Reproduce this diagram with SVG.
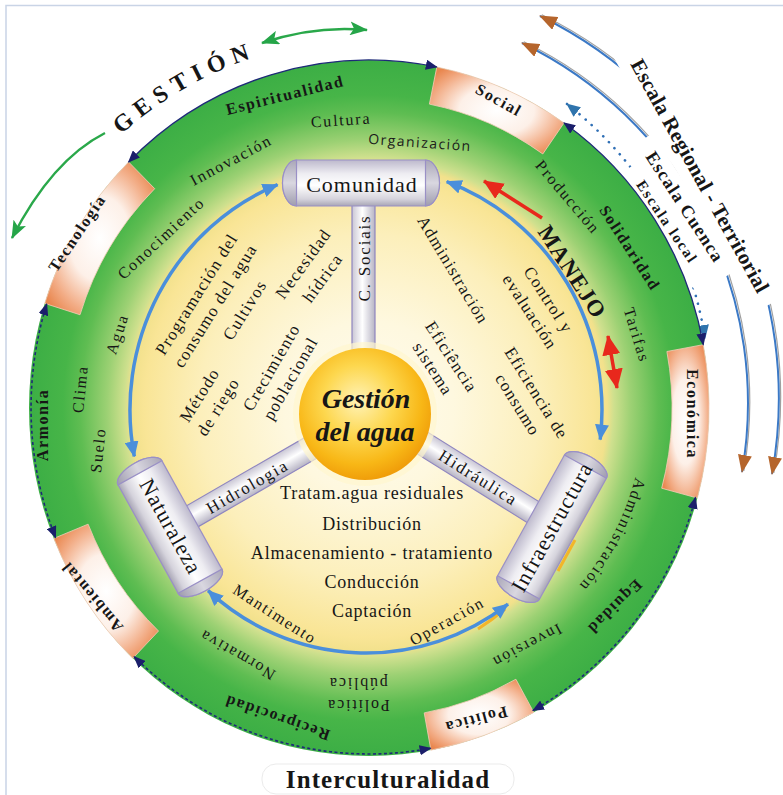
<svg xmlns="http://www.w3.org/2000/svg" width="783" height="795" viewBox="0 0 783 795">
<defs>
<style>
.sf{font-family:"Liberation Serif","Times New Roman",serif;fill:#161616}
.c{text-anchor:middle;dominant-baseline:central}
.r16{font-size:16px;letter-spacing:1.8px}
.i17{font-size:17px;letter-spacing:1.2px}
.b16{font-size:16px;font-weight:bold;letter-spacing:1.6px}
.cyl{font-size:22px;letter-spacing:1px}
.sp{font-size:17px;letter-spacing:1.8px}
.ls{font-size:18px;letter-spacing:0.8px;text-anchor:middle}
.sans{font-family:"Open Sans","DejaVu Sans",sans-serif;fill:#1a1a1a;font-size:14px;letter-spacing:1.5px}
.seg{fill:url(#segGrad);stroke:#f3cdb8;stroke-width:0.8}
.edge{fill:none;stroke:#1e2a78;stroke-width:1.3;marker-start:url(#mNavy);marker-end:url(#mNavy)}
.dash{stroke-dasharray:3 2.5;stroke-width:1.6}
.blue{fill:none;stroke:#4a8fdb;stroke-width:3.5;marker-start:url(#mBlue);marker-end:url(#mBlue)}
.red{fill:none;stroke:#e8281c;stroke-width:3.5}
.cylBody{fill:url(#cylGrad);stroke:#9a90c6;stroke-width:1.2}
.cap{fill:url(#capGrad);stroke:#9a90c6;stroke-width:1.2}
.spoke{fill:url(#spokeGrad);stroke:#8f86c0;stroke-width:1.2}
.scale{fill:none;stroke:#3b79c6;stroke-width:2;marker-start:url(#mBrown);marker-end:url(#mBrown)}
.shade{fill:none;stroke:#a0a0a0;stroke-width:1.2}
.green{fill:none;stroke:#2aa84a;stroke-width:2.5}
</style>
<marker id="mNavy" markerUnits="userSpaceOnUse" markerWidth="12" markerHeight="10" refX="11" refY="5" orient="auto-start-reverse"><path d="M0,0 L12,5 L0,10 z" fill="#1b1f6b"/></marker>
<marker id="mBlue" markerUnits="userSpaceOnUse" markerWidth="16" markerHeight="14" refX="15" refY="7" orient="auto-start-reverse"><path d="M0,0 L16,7 L0,14 z" fill="#4a8fdb"/></marker>
<marker id="mBrown" markerUnits="userSpaceOnUse" markerWidth="18" markerHeight="14" refX="17" refY="7" orient="auto-start-reverse"><path d="M0,0 L18,7 L0,14 z" fill="#b5652c"/></marker>
<marker id="mTeal" markerUnits="userSpaceOnUse" markerWidth="14" markerHeight="12" refX="13" refY="6" orient="auto-start-reverse"><path d="M0,0 L14,6 L0,12 z" fill="#2f74ad"/></marker>
<marker id="mGreen" markerUnits="userSpaceOnUse" markerWidth="18" markerHeight="14" refX="17" refY="7" orient="auto-start-reverse"><path d="M0,0 L18,7 L0,14 L4,7 z" fill="#25a548"/></marker>
<marker id="mRed" markerUnits="userSpaceOnUse" markerWidth="20" markerHeight="18" refX="19" refY="9" orient="auto-start-reverse"><path d="M0,0 L20,9 L0,18 z" fill="#e8281c"/></marker>
<radialGradient id="ringGrad" cx="0.5" cy="0.5" r="0.5">
<stop offset="0" stop-color="#fffcf0"/>
<stop offset="0.25" stop-color="#fef8df"/>
<stop offset="0.5" stop-color="#fcefbb"/>
<stop offset="0.66" stop-color="#f9e596"/>
<stop offset="0.70" stop-color="#f2e18c"/>
<stop offset="0.72" stop-color="#cfe08e"/>
<stop offset="0.77" stop-color="#9dd174"/>
<stop offset="0.85" stop-color="#5fbd52"/>
<stop offset="0.9" stop-color="#47b548"/>
<stop offset="1" stop-color="#3cae45"/>
</radialGradient>
<radialGradient id="segGrad" cx="0.5" cy="0.5" r="0.62">
<stop offset="0" stop-color="#ffffff"/>
<stop offset="0.45" stop-color="#fdf0e8"/>
<stop offset="0.8" stop-color="#f2ab84"/>
<stop offset="1" stop-color="#e9874f"/>
</radialGradient>
<radialGradient id="goldGrad" cx="0.45" cy="0.4" r="0.6">
<stop offset="0" stop-color="#fff3b8"/>
<stop offset="0.45" stop-color="#fdd74e"/>
<stop offset="0.8" stop-color="#f8b716"/>
<stop offset="1" stop-color="#f09e0a"/>
</radialGradient>
<linearGradient id="cylGrad" x1="0" y1="0" x2="0" y2="1">
<stop offset="0" stop-color="#bdb9cc"/>
<stop offset="0.3" stop-color="#eeedf2"/>
<stop offset="0.55" stop-color="#ffffff"/>
<stop offset="0.85" stop-color="#d5d3dc"/>
<stop offset="1" stop-color="#a8a5b5"/>
</linearGradient>
<linearGradient id="capGrad" x1="0" y1="0" x2="0" y2="1">
<stop offset="0" stop-color="#aaa7b8"/>
<stop offset="0.5" stop-color="#d9d7e0"/>
<stop offset="1" stop-color="#9f9cae"/>
</linearGradient>
<linearGradient id="spokeGrad" x1="0" y1="0" x2="0" y2="1">
<stop offset="0" stop-color="#c9c6d4"/>
<stop offset="0.45" stop-color="#ffffff"/>
<stop offset="1" stop-color="#b7b4c4"/>
</linearGradient>
<linearGradient id="spokeGradV" x1="0" y1="0" x2="1" y2="0">
<stop offset="0" stop-color="#c9c6d4"/>
<stop offset="0.45" stop-color="#ffffff"/>
<stop offset="1" stop-color="#b7b4c4"/>
</linearGradient>
<path id="gestionArc" d="M22.3,281.8 A369,369 0 0 1 433.1,44.6"/>
<path id="adminArc" d="M507,169 A276,276 0 0 1 252.4,658.1"/>
</defs>

<!-- page frame -->
<rect x="6" y="5.5" width="800" height="800" fill="#fff" stroke="#c9d4e6" stroke-width="1.5"/>

<!-- arrows and scale lines outside the wheel -->
<g id="outer-arrows">
<path class="green" d="M105,133 Q52,160 12,238" marker-end="url(#mGreen)"/>
<path class="green" d="M262,43 Q315,25 367,30" marker-start="url(#mGreen)" marker-end="url(#mGreen)"/>
<path class="shade" d="M540,16 A425,425 0 0 1 772,474" transform="translate(1.8,-1.2)"/>
<path class="scale" d="M540,16 A425,425 0 0 1 772,474"/>
<path class="shade" d="M522,43 A400,400 0 0 1 742,472" transform="translate(1.8,-1.2)"/>
<path class="scale" d="M522,43 A400,400 0 0 1 742,472"/>
<path d="M567,104 A370,370 0 0 1 705,338" fill="none" stroke="#2f6fb5" stroke-width="2.6" stroke-linecap="round" stroke-dasharray="0.1 8" marker-start="url(#mTeal)" marker-end="url(#mTeal)"/>
<!-- white label plates that interrupt the scale lines -->
<rect x="-146" y="-26" width="292" height="44" fill="#fff" transform="translate(700,176) rotate(61)"/>
<rect x="-80" y="-12" width="160" height="24" fill="#fff" transform="translate(686,207) rotate(57)"/>
<rect x="-70" y="-9" width="140" height="18" fill="#fff" transform="translate(665,228) rotate(57)"/>
</g>

<!-- wheel -->
<g id="ring">
<ellipse cx="369" cy="408" rx="340" ry="348" fill="url(#ringGrad)"/>
</g>
<g id="dimensions" transform="translate(369 408) scale(1 1.0235)">
<g id="seg-social"><path class="seg" d="M67.8,-333.2 A340,340 0 0 1 195.0,-278.5 L173.8,-248.2 A303,303 0 0 0 60.4,-296.9 Z"/></g>
<g id="seg-economica"><path class="seg" d="M334.3,-61.9 A340,340 0 0 1 328.4,88.0 L292.7,78.4 A303,303 0 0 0 297.9,-55.2 Z"/></g>
<g id="seg-politica"><path class="seg" d="M164.8,297.4 A340,340 0 0 1 61.9,334.3 L55.2,297.9 A303,303 0 0 0 146.9,265.0 Z"/></g>
<g id="seg-ambiental"><path class="seg" d="M-236.2,244.6 A340,340 0 0 1 -315.2,127.4 L-280.9,113.5 A303,303 0 0 0 -210.5,217.9 Z"/></g>
<g id="seg-tecnologia"><path class="seg" d="M-324.3,-102.2 A340,340 0 0 1 -240.4,-240.4 L-214.3,-214.3 A303,303 0 0 0 -289.0,-91.1 Z"/></g>
</g>

<g id="connectors">
<g transform="translate(369 408) scale(1 1.0235)">
<path class="edge" d="M-240.4,-240.4 A340,340 0 0 1 67.8,-333.2"/>
<path class="edge" d="M195.0,-278.5 A340,340 0 0 1 334.3,-61.9"/>
<path class="edge dash" d="M326.5,87.5 A338,338 0 0 1 163.9,295.6"/>
<path class="edge dash" d="M61.6,332.4 A338,338 0 0 1 -234.8,243.1"/>
<path class="edge dash" d="M-313.4,126.6 A338,338 0 0 1 -322.3,-101.6"/>
</g>
<path d="M575,540 L558,571" stroke="#f2b52a" stroke-width="3" fill="none"/>
<path d="M478,629 Q492,620 505,609" stroke="#f2b52a" stroke-width="3" fill="none"/>
<path class="blue" d="M277.6,184.7 A236,243 0 0 0 134.3,456.4"/>
<path class="blue" d="M446.7,181.6 A236,243 0 0 1 600.2,439.6"/>
<path class="blue" d="M208.1,590.6 A236,243 0 0 0 508.0,604.1"/>
<path class="red" d="M542,218 L484,181" marker-end="url(#mRed)"/>
<path class="red" d="M608,336 L617,388" marker-start="url(#mRed)" marker-end="url(#mRed)"/>
</g>

<!-- spokes -->
<g id="spokes">
<g id="spoke-sociais">
<rect x="352" y="200" width="23" height="155" fill="url(#spokeGradV)" stroke="#8f86c0" stroke-width="1.2"/>
<text class="sf c sp" transform="translate(364,258) rotate(-90)">C. Sociais</text>
</g>
<g id="spoke-hidrologia" transform="translate(250,483) rotate(-30)">
<rect class="spoke" x="-70" y="-12" width="140" height="24"/>
<text class="sf c sp" x="-4" y="2">Hidrologia</text>
</g>
<g id="spoke-hidraulica" transform="translate(480,479) rotate(32)">
<rect class="spoke" x="-70" y="-12" width="140" height="24"/>
<text class="sf c sp" x="-2" y="0">Hidráulica</text>
</g>
</g>

<!-- hub -->
<g id="node-gestion">
<circle cx="365" cy="414" r="72" fill="#fff6cf" opacity="0.7"/>
<circle cx="365" cy="414" r="66" fill="url(#goldGrad)"/>
<text class="sf c" x="366" y="398" font-size="28" font-weight="bold" font-style="italic">Gestión</text>
<text class="sf c" x="365" y="431" font-size="28" font-weight="bold" font-style="italic">del agua</text>
</g>

<!-- cylinders -->
<g id="node-comunidad" transform="translate(361,183)">
<rect class="cylBody" x="-78.5" y="-23" width="157" height="46" rx="14" ry="23"/>
<path class="cap" d="M-64.5,-23 A14,23 0 0 0 -64.5,23 Z"/>
<path class="cap" d="M64.5,-23 A14,23 0 0 1 64.5,23 Z"/>
<text class="sf c cyl" x="1" y="1">Comunidad</text>
</g>
<g id="node-naturaleza" transform="translate(170,527) rotate(61)">
<rect class="cylBody" x="-73" y="-25" width="146" height="50" rx="11" ry="25"/>
<path class="cap" d="M-62,-25 A11,25 0 0 0 -62,25 Z"/>
<path class="cap" d="M62,-25 A11,25 0 0 1 62,25 Z"/>
<text class="sf c cyl" x="0" y="-1">Naturaleza</text>
</g>
<g id="node-infraestructura" transform="translate(552,527) rotate(-61)">
<rect class="cylBody" x="-80" y="-24" width="160" height="48" rx="11" ry="24"/>
<path class="cap" d="M-69,-24 A11,24 0 0 0 -69,24 Z"/>
<path class="cap" d="M69,-24 A11,24 0 0 1 69,24 Z"/>
<text class="sf c cyl" x="0" y="0">Infraestructura</text>
</g>

<!-- dimension labels -->
<g id="labels-dimensions">
<text class="sf c b16" transform="translate(499,100) rotate(29)">Social</text>
<text class="sf c b16" transform="translate(77,233) rotate(-56)">Tecnología</text>
<text class="sf c b16" transform="translate(692,414) rotate(90)">Económica</text>
<text class="sf c b16" transform="translate(476,720) rotate(165)">Política</text>
<text class="sf c b16" transform="translate(92,597) rotate(230)">Ambiental</text>
<text class="sf c b16" transform="translate(285,95) rotate(-14)">Espiritualidad</text>
<text class="sf c b16" transform="translate(630,248) rotate(57)">Solidaridad</text>
<text class="sf c b16" transform="translate(615,607) rotate(135)">Equidad</text>
<text class="sf c b16" transform="translate(277,718) rotate(199)">Reciprocidad</text>
<text class="sf c b16" transform="translate(42,425) rotate(-90)">Armonía</text>
</g>

<!-- ring terms -->
<g id="labels-ring">
<text class="sf c r16" transform="translate(341,120) rotate(-4)">Cultura</text>
<text class="sans c" transform="translate(420,142) rotate(4)">Organización</text>
<text class="sf c r16" transform="translate(231,160) rotate(-28)">Innovación</text>
<text class="sf c r16" transform="translate(161,238) rotate(-43)">Conocimiento</text>
<text class="sf c r16" transform="translate(117,334) rotate(-72)">Agua</text>
<text class="sf c r16" transform="translate(80,389) rotate(-84)">Clima</text>
<text class="sf c r16" transform="translate(98,450) rotate(-84)">Suelo</text>
<text class="sf c r16" transform="translate(568,197) rotate(50)">Producción</text>
<text class="sf c r16" transform="translate(637,335) rotate(73)">Tarifas</text>
<text class="sf r16" text-anchor="middle"><textPath href="#adminArc" startOffset="50%">Administración</textPath></text>
<text class="sf c r16" transform="translate(527,646) rotate(152)">Inversión</text>
<g transform="translate(358,694) rotate(180)">
<text class="sf c r16" y="-11">Política</text>
<text class="sf c r16" y="11">pública</text>
</g>
<text class="sf c r16" transform="translate(237,655) rotate(210)">Normativa</text>
<text class="sf c r16" transform="translate(275,614) rotate(33)">Mantimento</text>
<text class="sf c r16" transform="translate(447,621) rotate(-29)">Operación</text>
<text class="sf c" transform="translate(572,272) rotate(57)" font-size="23" font-weight="bold" letter-spacing="1" fill="#14143c">MANEJO</text>
</g>

<!-- inner terms -->
<g id="labels-inner">
<g transform="translate(206,300) rotate(-58)">
<text class="sf c i17" y="-11">Programación del</text>
<text class="sf c i17" y="11">consumo del agua</text>
</g>
<text class="sf c i17" transform="translate(245,310) rotate(-58)">Cultivos</text>
<g transform="translate(313,271) rotate(-54)">
<text class="sf c i17" y="-12">Necesidad</text>
<text class="sf c i17" y="12">hídrica</text>
</g>
<g transform="translate(209,401) rotate(-58)">
<text class="sf c i17" y="-11">Método</text>
<text class="sf c i17" y="11">de riego</text>
</g>
<g transform="translate(281,373) rotate(-60)">
<text class="sf c i17" y="-11">Crecimiento</text>
<text class="sf c i17" y="11">poblacional</text>
</g>
<text class="sf c i17" transform="translate(453,270) rotate(59)">Administración</text>
<g transform="translate(539,306) rotate(57)">
<text class="sf c i17" y="-11">Control y</text>
<text class="sf c i17" y="11">evaluación</text>
</g>
<g transform="translate(442,363) rotate(57)">
<text class="sf c i17" y="-11">Eficiência</text>
<text class="sf c i17" y="11">sistema</text>
</g>
<g transform="translate(527,399) rotate(58)">
<text class="sf c i17" y="-11">Eficiencia de</text>
<text class="sf c i17" y="11">consumo</text>
</g>
<text class="sf ls" x="372" y="499">Tratam.agua residuales</text>
<text class="sf ls" x="372" y="530">Distribución</text>
<text class="sf ls" x="372" y="559">Almacenamiento - tratamiento</text>
<text class="sf ls" x="372" y="588">Conducción</text>
<text class="sf ls" x="372" y="617">Captación</text>
</g>

<!-- titles outside the wheel -->
<g id="labels-outer">
<text class="sf" font-size="24" font-weight="bold" letter-spacing="7" text-anchor="middle"><textPath href="#gestionArc" startOffset="50.1%">GESTIÓN</textPath></text>
<text class="sf c" transform="translate(700,176) rotate(61)" font-size="21" font-weight="bold" letter-spacing="0.3">Escala Regional - Territorial</text>
<text class="sf c" transform="translate(685,207) rotate(57)" font-size="18" font-weight="bold" letter-spacing="1.2">Escala Cuenca</text>
<text class="sf c" transform="translate(667,222) rotate(56)" font-size="15" font-weight="bold" letter-spacing="1.8">Escala local</text>
<rect x="262" y="764" width="252" height="30" rx="14" fill="#fff" stroke="#ebebeb"/>
<text class="sf" x="388" y="788" text-anchor="middle" font-size="25" font-weight="bold" letter-spacing="1.1">Interculturalidad</text>
</g>
</svg>
